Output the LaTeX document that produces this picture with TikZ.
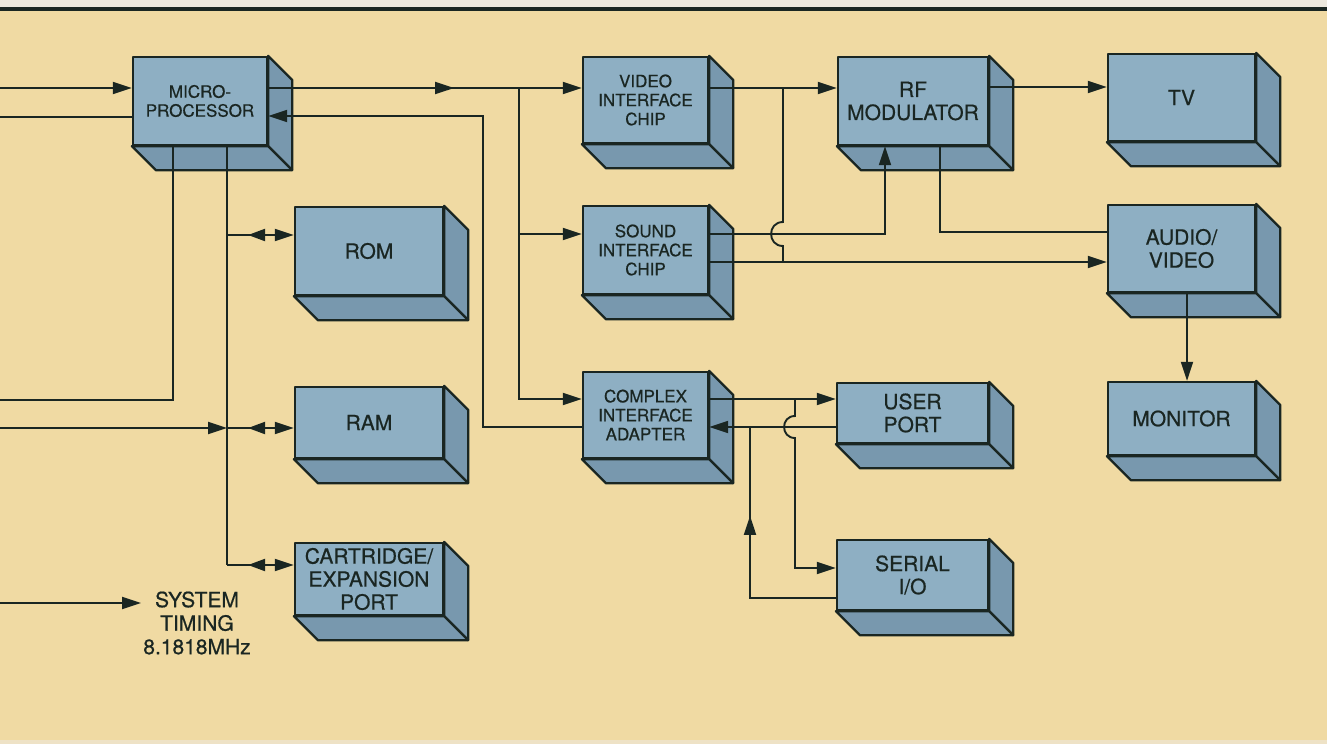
\documentclass[tikz,border=0pt]{standalone}
\usepackage{fontspec}
\setmainfont{TeX Gyre Heros}[FakeBold=0.6]
\usetikzlibrary{arrows.meta,calc,decorations.markings}
\definecolor{bg}{RGB}{240,218,163}
\definecolor{topw}{RGB}{236,232,222}
\definecolor{frontc}{RGB}{142,175,195}
\definecolor{sidec}{RGB}{120,152,174}
\definecolor{ink}{RGB}{26,38,34}
\newcommand\fs{\fontsize{17}{19}\selectfont}
\newcommand\fl{\fontsize{21}{23}\selectfont}
\newcommand\blk[7]{%
  \node[box, font=#6, minimum width={#4-#2}, minimum height={#5-#3}] (#1) at ({(#2+#4)/2},{(#3+#5)/2}) {#7};
  \filldraw[face] (#1.north east) -- ++(24,24) -- ($(#1.south east)+(24,24)$) -- (#1.south east) -- cycle;
  \filldraw[face] (#1.south west) -- ++(24,24) -- ($(#1.south east)+(24,24)$) -- (#1.south east) -- cycle;
}
\begin{document}
\begin{tikzpicture}[x=1pt,y=-1pt,
  box/.style={draw=ink, fill=frontc, line width=2.3pt, inner sep=0pt, align=center, text=ink, line join=round},
  face/.style={draw=ink, fill=sidec, line width=2.3pt, line join=round},
  conn/.style={draw=ink, color=ink, line width=1.9pt},
  tip/.style={-{Triangle[length=19pt,width=12pt]}},
  midmark/.style={postaction={decorate}, decoration={markings, mark=at position #1 with {\arrow{Triangle[length=19pt,width=12pt]}}}},
  revmark/.style={postaction={decorate}, decoration={markings, mark=at position #1 with {\arrowreversed{Triangle[length=17pt,width=12pt]}}}},
  lbl/.style={align=center, text=ink, inner sep=2pt}]
\useasboundingbox (0,0) rectangle (1327,744);
\fill[bg] (0,0) rectangle (1327,744);
\fill[topw] (0,0) rectangle (1327,7);
\draw[ink, line width=4pt] (0,9) -- (1327,9);
\fill[topw!60!bg] (0,740) rectangle (1327,744);

% boxes
\blk{micro}{133}{57}{267}{145}{\fs}{MICRO-\\PROCESSOR}
\blk{rom}{295}{207}{443}{295}{\fl}{ROM}
\blk{ram}{295}{387}{443}{458}{\fl}{RAM}
\blk{cart}{295}{543}{443}{615}{\fl}{CARTRIDGE/\\EXPANSION\\PORT}
\blk{video}{583}{57}{708}{143}{\fs}{VIDEO\\INTERFACE\\CHIP}
\blk{sound}{583}{206}{708}{294}{\fs}{SOUND\\INTERFACE\\CHIP}
\blk{cia}{583}{372}{708}{458}{\fs}{COMPLEX\\INTERFACE\\ADAPTER}
\blk{rf}{838}{57}{988}{145}{\fl}{RF\\MODULATOR}
\blk{tv}{1108}{54}{1255}{141}{\fl}{TV}
\blk{av}{1108}{205}{1255}{292}{\fl}{AUDIO/\\VIDEO}
\blk{user}{837}{383}{988}{443}{\fl}{USER\\PORT}
\blk{serial}{837}{540}{988}{610}{\fl}{SERIAL\\I/O}
\blk{monitor}{1108}{382}{1255}{455}{\fl}{MONITOR}

\node[lbl, font=\fontsize{21}{23.5}\selectfont] (timing) at (197,623) {SYSTEM\\TIMING\\8.1818MHz};

% reference coordinates
\coordinate (inA) at (0,88);
\coordinate (inB) at (0,117);
\coordinate (inC) at (0,400);
\coordinate (inD) at (0,428);
\coordinate (inE) at (0,603);
\coordinate (b1) at (173,0);
\coordinate (b2) at (227,0);
\coordinate (yR) at (0,235);
\coordinate (yC) at (0,565);
\coordinate (j1) at (519,88);
\coordinate (j2) at (483,116);
\coordinate (ySi) at (0,234);
\coordinate (ySl) at (0,262);
\coordinate (yCi) at (0,399);
\coordinate (yCo) at (0,427);
\coordinate (j3) at (783,88);
\coordinate (j4) at (885,0);
\coordinate (j5) at (940,0);
\coordinate (yAV) at (0,232);
\coordinate (yT) at (0,87);
\coordinate (j6) at (795,399);
\coordinate (j7) at (750,0);
\coordinate (ySe) at (0,568);
\coordinate (ySo) at (0,598);
\coordinate (xM) at (1187,0);

% left side
\draw[conn,tip] (inA) -- (micro.west |- inA);
\draw[conn] (inB) -- (micro.west |- inB);
\draw[conn] (micro.south -| b1) -- (b1 |- inC) -- (inC);
\draw[conn] (micro.south -| b2) -- (b2 |- yC);
\draw[conn,tip,revmark=21pt] (b2 |- yR) -- (rom.west |- yR);
\draw[conn,tip,revmark=21pt] (b2 |- inD) -- (ram.west |- inD);
\draw[conn,tip,revmark=21pt] (b2 |- yC) -- (cart.west |- yC);
\draw[conn,tip] (inD) -- (b2 |- inD);
\draw[conn,tip] (inE) -- (timing.west |- inE);

% microprocessor to chips
\draw[conn,tip,midmark=186pt] (micro.east |- inA) -- (video.west |- inA);
\draw[conn,tip] (j1) |- (cia.west |- yCi);
\draw[conn,tip] (j1 |- ySi) -- (sound.west |- ySi);
\draw[conn,tip] (cia.west |- yCo) -| (j2) -- (micro.east |- j2);

% video / sound to RF and A/V
\draw[conn,tip] (video.east |- inA) -- (rf.west |- inA);
\draw[conn] (j3) -- ($(j3 |- ySi)+(0,-12)$) to[out=180,in=180,looseness=1.7] ($(j3 |- ySi)+(0,12)$) -- (j3 |- ySl);
\draw[conn,tip] (sound.east |- ySi) -| (rf.south -| j4);
\draw[conn,tip] (sound.east |- ySl) -- (av.west |- ySl);
\draw[conn] (rf.south -| j5) |- (av.west |- yAV);
\draw[conn,tip] (rf.east |- yT) -- (tv.west |- yT);
\draw[conn,tip] (av.south -| xM) -- (monitor.north -| xM);

% CIA to ports
\draw[conn,tip] (cia.east |- yCi) -- (user.west |- yCi);
\draw[conn,tip] (user.west |- yCo) -- (cia.east |- yCo);
\draw[conn,tip] (j6) -- ($(j6 |- yCo)+(0,-11)$) to[out=180,in=180,looseness=1.7] ($(j6 |- yCo)+(0,11)$) |- (serial.west |- ySe);
\draw[conn,midmark=168pt] (serial.west |- ySo) -| (j7 |- yCo);
\end{tikzpicture}
\end{document}
